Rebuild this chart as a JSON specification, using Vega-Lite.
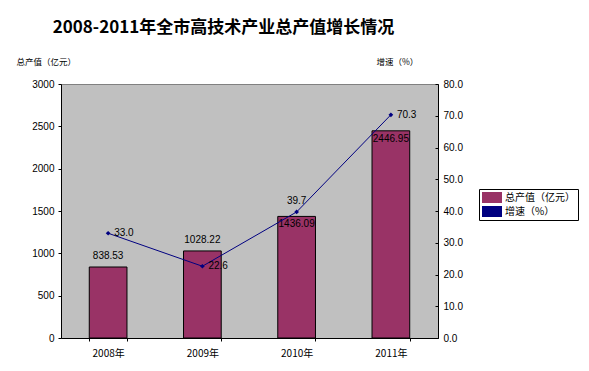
{
  "$schema": "https://vega.github.io/schema/vega-lite/v6.json",
  "width": 377,
  "height": 254,
  "autosize": "none",
  "padding": {"left": 61, "top": 84, "right": 151, "bottom": 33},
  "background": "white",
  "config": {
    "view": {"fill": "#C0C0C0", "stroke": "#808080", "strokeWidth": 1},
    "axis": {"grid": false, "domainColor": "#000000", "tickColor": "#000000", "labelColor": "#000000", "labelFont": "Liberation Sans", "labelFontSize": 10, "titleColor": "#000000"}
  },
  "title": {
    "text": "2008-2011年全市高技术产业总产值增长情况",
    "font": "Noto Sans CJK SC",
    "fontSize": 17,
    "fontWeight": "bold",
    "color": "#000000",
    "anchor": "middle",
    "frame": "group",
    "dx": -26,
    "baseline": "bottom",
    "offset": 3
  },
  "data": {
    "values": [
      {"year": "2008年", "value": 838.53, "growth": 33.0, "vlabel": "838.53", "glabel": "33.0"},
      {"year": "2009年", "value": 1028.22, "growth": 22.6, "vlabel": "1028.22", "glabel": "22.6"},
      {"year": "2010年", "value": 1436.09, "growth": 39.7, "vlabel": "1436.09", "glabel": "39.7"},
      {"year": "2011年", "value": 2446.95, "growth": 70.3, "vlabel": "2446.95", "glabel": "70.3"}
    ]
  },
  "encoding": {
    "x": {
      "field": "year",
      "type": "ordinal",
      "sort": null,
      "scale": {"paddingInner": 0.6, "paddingOuter": 0.3},
      "axis": {"title": null, "labelAngle": 0, "tickBand": "extent", "tickSize": 3, "labelPadding": 7, "labelFont": "Noto Sans CJK SC", "labelFontSize": 10}
    }
  },
  "layer": [
    {
      "encoding": {
        "y": {
          "field": "value",
          "type": "quantitative",
          "scale": {"domain": [0, 3000], "nice": false},
          "axis": {
            "orient": "left",
            "values": [0, 500, 1000, 1500, 2000, 2500, 3000],
            "format": "d",
            "tickSize": 3,
            "labelPadding": 4,
            "title": "总产值（亿元）",
            "titleAngle": 0,
            "titleAlign": "left",
            "titleBaseline": "middle",
            "titleX": -45,
            "titleY": -23,
            "titleFont": "Noto Sans CJK SC",
            "titleFontSize": 8.5,
            "titleFontWeight": "normal"
          }
        }
      },
      "layer": [
        {
          "mark": {"type": "bar", "stroke": "#000000", "strokeWidth": 1},
          "encoding": {
            "color": {
              "datum": "总产值（亿元）",
              "type": "nominal",
              "scale": {"domain": ["总产值（亿元）", "增速（%）"], "range": ["#993366", "#000080"]},
              "legend": {
                "title": null,
                "orient": "none",
                "legendX": 418,
                "legendY": 105,
                "padding": 3,
                "strokeColor": "#000000",
                "fillColor": "#FFFFFF",
                "clipHeight": 11,
                "rowPadding": 3,
                "labelFont": "Noto Sans CJK SC",
                "labelFontSize": 10,
                "labelColor": "#000000",
                "labelOffset": 3,
                "symbolSize": 361,
                "symbolStrokeWidth": 1
              }
            }
          }
        },
        {
          "transform": [{"filter": "datum.value < 1200"}],
          "mark": {"type": "text", "font": "Liberation Sans", "fontSize": 10, "color": "#000000", "baseline": "middle", "dy": -11},
          "encoding": {"text": {"field": "vlabel"}}
        },
        {
          "transform": [{"filter": "datum.value >= 1200"}],
          "mark": {"type": "text", "font": "Liberation Sans", "fontSize": 10, "color": "#000000", "baseline": "middle", "dy": 8},
          "encoding": {"text": {"field": "vlabel"}}
        }
      ]
    },
    {
      "encoding": {
        "y": {
          "field": "growth",
          "type": "quantitative",
          "scale": {"domain": [0, 80], "nice": false},
          "axis": {
            "orient": "right",
            "values": [0, 10, 20, 30, 40, 50, 60, 70, 80],
            "format": ".1f",
            "tickSize": -3,
            "labelPadding": 8,
            "title": "增速（%）",
            "titleAngle": 0,
            "titleAlign": "left",
            "titleBaseline": "middle",
            "titleX": -62,
            "titleY": -23,
            "titleFont": "Noto Sans CJK SC",
            "titleFontSize": 8.5,
            "titleFontWeight": "normal"
          }
        }
      },
      "layer": [
        {
          "mark": {"type": "line", "strokeWidth": 1, "point": {"shape": "diamond", "filled": true, "size": 22}},
          "encoding": {
            "color": {"datum": "增速（%）", "type": "nominal"}
          }
        },
        {
          "transform": [{"filter": "datum.year !== '2010年'"}],
          "mark": {"type": "text", "font": "Liberation Sans", "fontSize": 10, "color": "#000000", "baseline": "middle", "align": "left", "dx": 6},
          "encoding": {"text": {"field": "glabel"}}
        },
        {
          "transform": [{"filter": "datum.year === '2010年'"}],
          "mark": {"type": "text", "font": "Liberation Sans", "fontSize": 10, "color": "#000000", "baseline": "middle", "align": "center", "dy": -11},
          "encoding": {"text": {"field": "glabel"}}
        }
      ]
    }
  ],
  "resolve": {"scale": {"y": "independent"}}
}
